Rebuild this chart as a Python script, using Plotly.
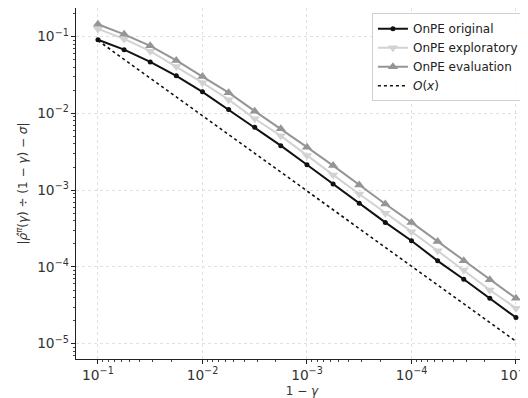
import plotly.graph_objects as go

# data
x_vals = [1e-1, 5.62e-2, 3.16e-2, 1.78e-2, 1e-2, 5.62e-3, 3.16e-3, 1.78e-3, 1e-3,
          5.62e-4, 3.16e-4, 1.78e-4, 1e-4, 5.62e-5, 3.16e-5, 1.78e-5, 1e-5]
onpe_original = [0.0912, 0.0676, 0.0468, 0.0309, 0.0191, 0.0112, 0.0066, 0.0038, 0.00214,
                 0.0012, 0.000676, 0.00038, 0.000219, 0.00012, 6.9e-5, 3.9e-5, 2.19e-5]
onpe_exploratory = [0.126, 0.0933, 0.0646, 0.0407, 0.0251, 0.0151, 0.0085, 0.0051, 0.00282,
                    0.00158, 0.00089, 0.0005, 0.000288, 0.000162, 9.1e-5, 5.0e-5, 2.9e-5]
onpe_evaluation = [0.145, 0.107, 0.0759, 0.049, 0.0302, 0.0186, 0.0107, 0.0063, 0.00363,
                   0.00209, 0.00117, 0.00066, 0.00038, 0.000214, 0.00012, 6.8e-5, 3.9e-5]
ox_x = [1e-1, 1e-5]
ox_y = [0.089, 1.07e-5]

FONT = "DejaVu Sans"

fig = go.Figure()
fig.add_trace(go.Scatter(x=x_vals, y=onpe_original, mode="lines+markers", name="OnPE original",
                         line=dict(color="#111111", width=2),
                         marker=dict(symbol="circle", size=5, color="#111111")))
fig.add_trace(go.Scatter(x=x_vals, y=onpe_exploratory, mode="lines+markers", name="OnPE exploratory",
                         line=dict(color="#d2d2d2", width=2),
                         marker=dict(symbol="triangle-down", size=9, color="#d2d2d2")))
fig.add_trace(go.Scatter(x=x_vals, y=onpe_evaluation, mode="lines+markers", name="OnPE evaluation",
                         line=dict(color="#959595", width=2),
                         marker=dict(symbol="triangle-up", size=9, color="#959595")))
fig.add_trace(go.Scatter(x=ox_x, y=ox_y, mode="lines", name="<i>O</i>(<i>x</i>)",
                         line=dict(color="#111111", width=1.6, dash="dot")))

# page body adds an 8px offset; figure sized to fill the remaining window
fig.update_layout(
    width=520, height=390,
    margin=dict(l=68, r=0, t=0, b=39),
    paper_bgcolor="white", plot_bgcolor="white",
    font=dict(family=FONT, size=11, color="#333333"),
    showlegend=True,
    legend=dict(x=0.991, xanchor="right", y=0.985, yanchor="top",
                bgcolor="rgba(255,255,255,0.85)", bordercolor="#d0d0d0", borderwidth=1,
                font=dict(family=FONT, size=12, color="#222222"),
                tracegroupgap=0, itemwidth=30),
)
axis_common = dict(
    type="log", automargin=False, dtick=1, exponentformat="power",
    showline=True, linecolor="#222222", linewidth=1,
    ticks="outside", ticklen=4, tickcolor="#222222",
    showgrid=True, gridcolor="#e0e0e0", griddash="dot", gridwidth=1,
    minor=dict(ticks="outside", ticklen=2, tickcolor="#444444", dtick="D1", showgrid=False),
    zeroline=False,
    tickfont=dict(family=FONT, size=11, color="#333333"),
)
fig.update_xaxes(range=[-0.79, -5.115], mirror=True, ticklabeloverflow="allow",
                 title=dict(text="1 − <i>γ</i>", standoff=6, font=dict(family=FONT, size=12, color="#333333")),
                 **axis_common)
fig.update_yaxes(range=[-5.2, -0.627],
                 title=dict(text="|<i>ρ̂</i><sup><i>π</i></sup>(<i>γ</i>) ÷ (1 − <i>γ</i>) − <i>σ</i>|", standoff=6,
                            font=dict(family=FONT, size=12, color="#333333")),
                 **axis_common)

fig.write_html("out.html")
